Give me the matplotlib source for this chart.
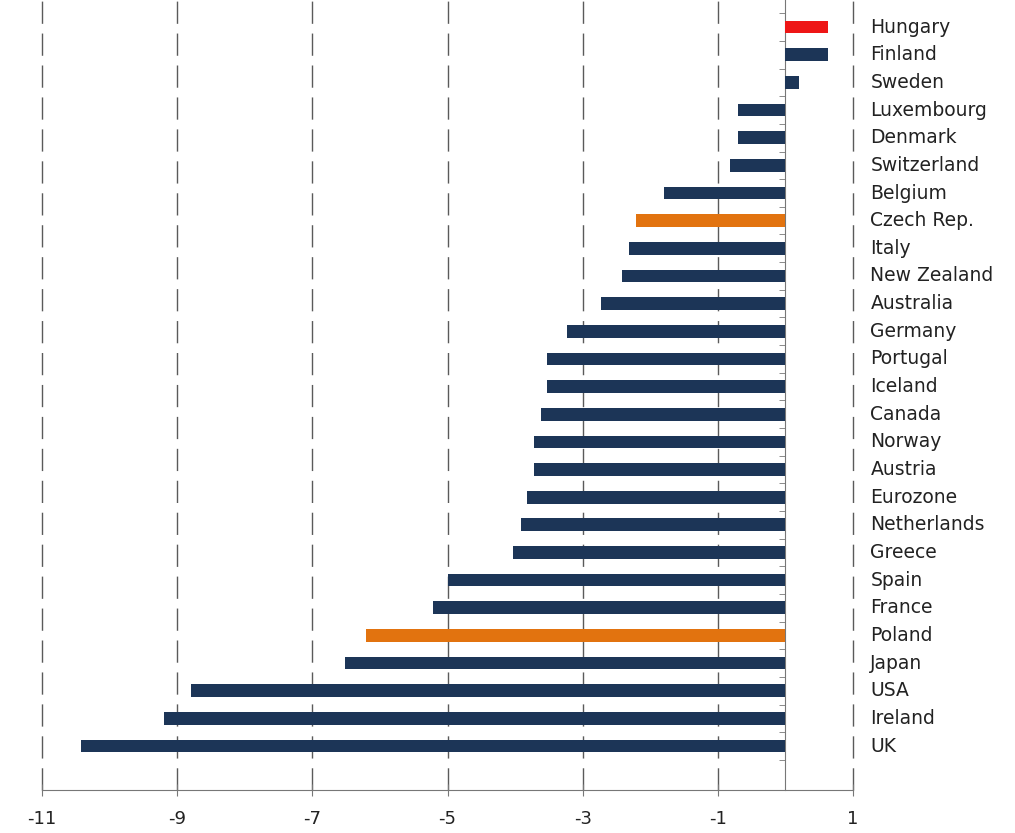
import numpy as np
import matplotlib
matplotlib.use("Agg")
import matplotlib.pyplot as plt

plt.rcParams['font.family'] = ['DejaVu Sans']

# country list, top to bottom
countries = ["Hungary", "Finland", "Sweden", "Luxembourg", "Denmark", "Switzerland",
             "Belgium", "Czech Rep.", "Italy", "New Zealand", "Australia", "Germany",
             "Portugal", "Iceland", "Canada", "Norway", "Austria", "Eurozone",
             "Netherlands", "Greece", "Spain", "France", "Poland", "Japan", "USA",
             "Ireland", "UK"]
values = [0.63, 0.63, 0.2, -0.7, -0.7, -0.82, -1.8, -2.21, -2.32, -2.42, -2.73, -3.23,
          -3.53, -3.53, -3.62, -3.72, -3.72, -3.82, -3.91, -4.03, -4.99, -5.21, -6.2,
          -6.52, -8.8, -9.2, -10.42]
highlight = {"Hungary": "#ee1616", "Czech Rep.": "#e2730f", "Poland": "#e2730f"}
NAVY = "#1c3557"
xticks = list(range(-11, 2, 2))

colors = [highlight.get(c, NAVY) for c in countries]
n = len(countries)
ypos = np.arange(n)[::-1]

fig = plt.figure(figsize=(10.15, 8.33), dpi=100)
ax = fig.add_axes([42/1015, 1 - 790/833, (853 - 42)/1015, 790/833])

# dashed vertical gridlines (drawn by hand so the one on the right edge shows)
for xv in xticks:
    ax.axvline(xv, color="#5a5a5a", linewidth=1.0, linestyle=(0, (16, 7)),
               zorder=0, clip_on=False)

ax.barh(ypos, values, height=0.46, color=colors, zorder=3)

ax.set_xlim(-11, 1)
ax.set_ylim(-1.59, n - 1 + 0.98)
ax.set_xticks(xticks)
ax.set_xticklabels([str(v) for v in xticks])

for s in ["top", "right"]:
    ax.spines[s].set_visible(False)
ax.spines["bottom"].set_color("#777777")
ax.spines["left"].set_position(("data", 0))
ax.spines["left"].set_color("#777777")

ax.tick_params(axis="x", direction="inout", length=9, color="#777777",
               labelsize=13, pad=10, labelcolor="#222222")

ax.set_yticks(ypos)
ax.set_yticklabels(countries, va="center")
ax.set_yticks(np.arange(-0.5, n, 1.0), minor=True)
ax.tick_params(axis="y", which="major", left=False, right=False,
               labelleft=False, labelright=True, labelsize=13.5, pad=9,
               labelcolor="#222222")
ax.tick_params(axis="y", which="minor", left=True, right=False,
               direction="out", length=4, color="#777777")

fig.savefig("out.png", dpi=100)
